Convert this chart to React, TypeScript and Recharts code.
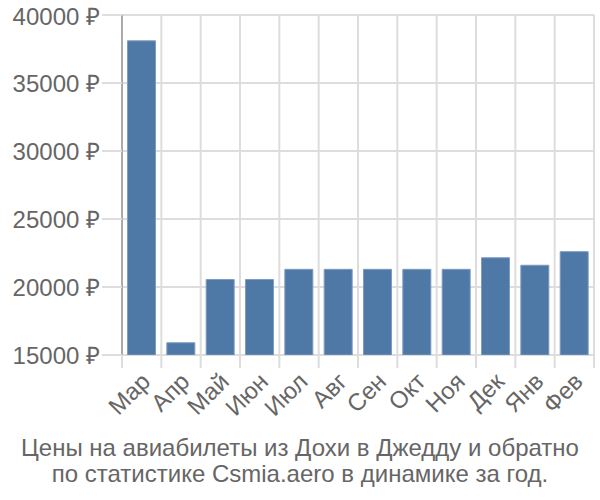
import { BarChart, Bar, XAxis, YAxis, CartesianGrid } from 'recharts'

const months = ['Мар', 'Апр', 'Май', 'Июн', 'Июл', 'Авг', 'Сен', 'Окт', 'Ноя', 'Дек', 'Янв', 'Фев']
const prices = [38100, 15900, 20550, 20550, 21300, 21300, 21300, 21300, 21300, 22150, 21600, 22600]
const yTicks = [15000, 20000, 25000, 30000, 35000, 40000]
const titleLines = ['Цены на авиабилеты из Дохи в Джедду и обратно', 'по статистике Csmia.aero в динамике за год.']

const data = months.map((m, i) => ({ month: m, price: prices[i] }))

const FONT = '"Liberation Sans", Arial, sans-serif'
const TEXT = '#666666'
const GRID = '#dddddd'
const FS = 24

const LEFT = 122
const RIGHT = 594
const BOTTOM = 355
const band = (RIGHT - LEFT) / months.length

function MonthTick(props: any) {
  const { x, y, payload, index } = props
  const left = x - band / 2
  const ax = x - 2
  const ay = y + 8
  return (
    <g>
      <line x1={left} y1={BOTTOM} x2={left} y2={BOTTOM + 13} stroke={GRID} strokeWidth={2} />
      {index === months.length - 1 && (
        <line x1={x + band / 2} y1={BOTTOM} x2={x + band / 2} y2={BOTTOM + 13} stroke={GRID} strokeWidth={2} />
      )}
      <text
        x={ax}
        y={ay}
        textAnchor="end"
        fill={TEXT}
        fontSize={FS}
        fontFamily={FONT}
        transform={`rotate(-45 ${ax} ${ay})`}
        dy="0.71em"
      >
        {payload.value}
      </text>
    </g>
  )
}

export default function App() {
  return (
    <div style={{ position: 'absolute', left: 0, top: 0, width: 600, height: 500, background: '#fff' }}>
      <BarChart
        width={600}
        height={500}
        data={data}
        margin={{ top: 15, right: 600 - RIGHT, left: 0, bottom: 0 }}
        barCategoryGap="14%"
      >
        <CartesianGrid
          stroke={GRID}
          strokeWidth={2}
          verticalCoordinatesGenerator={() => months.map((_, i) => LEFT + band * (i + 1))}
        />
        <XAxis
          dataKey="month"
          axisLine={false}
          tickLine={false}
          interval={0}
          height={500 - BOTTOM}
          tick={<MonthTick />}
        />
        <YAxis
          domain={[15000, 40000]}
          ticks={yTicks}
          width={LEFT}
          tickSize={20}
          tickMargin={2}
          tickLine={{ stroke: GRID, strokeWidth: 2 }}
          axisLine={{ stroke: '#aaaaaa', strokeWidth: 2 }}
          tick={{ fill: TEXT, fontSize: FS, fontFamily: FONT }}
          tickFormatter={(v: number) => `${v} ₽`}
          allowDataOverflow
        />
        <Bar dataKey="price" fill="#4e79a7" stroke="#7d9cc0" strokeWidth={1} isAnimationActive={false} />
      </BarChart>
      <div
        style={{
          position: 'absolute',
          left: 0,
          top: 435,
          width: 600,
          textAlign: 'center',
          color: TEXT,
          fontFamily: FONT,
          fontSize: FS,
          lineHeight: '26px',
        }}
      >
        {titleLines.map((l) => (
          <div key={l}>{l}</div>
        ))}
      </div>
    </div>
  )
}
